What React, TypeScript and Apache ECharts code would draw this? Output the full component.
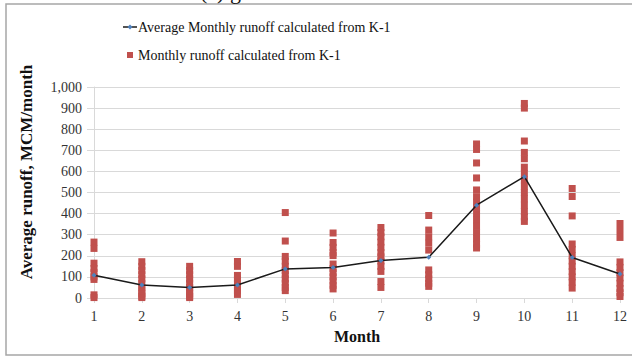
import React, { useEffect, useRef } from "react";
import * as echarts from "echarts";

const months = [1, 2, 3, 4, 5, 6, 7, 8, 9, 10, 11, 12];
const averageRunoff = [108, 62, 50, 62, 138, 145, 178, 193, 440, 575, 192, 114];
const monthlyRunoff: number[][] = [
  [265, 235, 165, 140, 120, 100, 88, 15, 2],
  [172, 150, 130, 110, 90, 70, 50, 35, 20, 8, 2],
  [150, 130, 110, 90, 70, 50, 35, 20, 8, 2],
  [173, 150, 107, 90, 70, 50, 35, 17],
  [405, 270, 197, 175, 150, 130, 110, 90, 70, 50, 35],
  [308, 263, 240, 215, 201, 161, 140, 120, 100, 80, 60, 43],
  [334, 310, 290, 265, 240, 215, 195, 175, 150, 126, 78, 50],
  [391, 322, 290, 260, 227, 133, 110, 90, 70, 55],
  [730, 704, 640, 569, 512, 480, 455, 430, 400, 370, 340, 310, 280, 255, 237],
  [922, 900, 744, 690, 660, 620, 590, 560, 530, 500, 470, 440, 410, 385, 363],
  [519, 481, 389, 256, 230, 200, 175, 150, 125, 100, 75, 47],
  [353, 320, 287, 171, 145, 120, 95, 70, 45, 25, 7],
];
const yTicks = [0, 100, 200, 300, 400, 500, 600, 700, 800, 900, 1000];
const seriesNames = [
  "Average Monthly runoff calculated from K-1",
  "Monthly runoff calculated from K-1",
];

const FONT = "'Liberation Serif', 'Times New Roman', serif";

export default function App() {
  const ref = useRef<HTMLDivElement>(null);
  useEffect(() => {
    if (!ref.current) return;
    const chart = echarts.init(ref.current, undefined, { renderer: "svg" });
    const scatterData: number[][] = [];
    monthlyRunoff.forEach((vals, i) => {
      vals.forEach((v) => scatterData.push([months[i], v]));
    });
    const lineData = months.map((m, i) => [m, averageRunoff[i]]);
    chart.setOption({
      animation: false,
      backgroundColor: "#ffffff",
      textStyle: { fontFamily: FONT },
      grid: { left: 94, right: 12, top: 87, bottom: 58, containLabel: false },
      xAxis: {
        type: "value",
        min: 1,
        max: 12,
        interval: 1,
        name: "Month",
        nameLocation: "middle",
        nameGap: 30,
        nameTextStyle: { fontFamily: FONT, fontSize: 16, fontWeight: "bold", color: "#111" },
        axisLine: { show: true, lineStyle: { color: "#d9d9d9", width: 1 } },
        axisTick: { show: true, length: 5, lineStyle: { color: "#d9d9d9" } },
        splitLine: { show: false },
        axisLabel: { fontFamily: FONT, fontSize: 14, color: "#333", margin: 11 },
      },
      yAxis: {
        type: "value",
        min: 0,
        max: 1000,
        interval: 100,
        axisLine: { show: true, lineStyle: { color: "#d9d9d9", width: 1 } },
        axisTick: { show: true, length: 7, lineStyle: { color: "#d9d9d9" } },
        splitLine: { show: true, lineStyle: { color: "#d9d9d9", width: 1 } },
        axisLabel: {
          fontFamily: FONT,
          fontSize: 14,
          color: "#333",
          margin: 12,
          formatter: (v: number) => (yTicks.includes(v) ? v.toLocaleString("en-US") : ""),
        },
      },
      graphic: [
        {
          type: "rect",
          shape: { x: 6, y: 4, width: 700, height: 351 },
          style: { fill: "none", stroke: "#a6a6a6", lineWidth: 1.5 },
          silent: true,
          z: -10,
        },
        {
          type: "text",
          x: 200,
          y: -9,
          style: { text: "(a) g", font: `22px ${FONT}`, fill: "#111", verticalAlign: "middle" },
        },
        {
          type: "text",
          x: 26,
          y: 172,
          rotation: Math.PI / 2,
          style: {
            text: "Average runoff, MCM/month",
            font: `bold 17px ${FONT}`,
            fill: "#111",
            align: "center",
            verticalAlign: "middle",
          },
        },
        {
          type: "line",
          shape: { x1: 123, y1: 27, x2: 137, y2: 27 },
          style: { stroke: "#1a1a1a", lineWidth: 1.5 },
        },
        {
          type: "polygon",
          shape: { points: [[130, 24.5], [132.5, 27], [130, 29.5], [127.5, 27]] },
          style: { fill: "#4f81bd" },
        },
        {
          type: "text",
          x: 138,
          y: 27,
          style: { text: seriesNames[0], font: `14px ${FONT}`, fill: "#111", verticalAlign: "middle" },
        },
        {
          type: "rect",
          shape: { x: 127, y: 52, width: 6, height: 6 },
          style: { fill: "#c0504d" },
        },
        {
          type: "text",
          x: 138,
          y: 55,
          style: { text: seriesNames[1], font: `14px ${FONT}`, fill: "#111", verticalAlign: "middle" },
        },
      ],
      series: [
        {
          name: seriesNames[1],
          type: "scatter",
          data: scatterData,
          symbol: "rect",
          symbolSize: 7,
          itemStyle: { color: "#c0504d", opacity: 1 },
          z: 2,
        },
        {
          name: seriesNames[0],
          type: "line",
          data: lineData,
          symbol: "diamond",
          symbolSize: 5,
          showSymbol: true,
          lineStyle: { color: "#1a1a1a", width: 1.5 },
          itemStyle: { color: "#4f81bd" },
          z: 3,
        },
      ],
    });
    return () => chart.dispose();
  }, []);
  return (
    <div
      ref={ref}
      style={{ position: "absolute", left: 0, top: 0, width: 632, height: 356 }}
    />
  );
}
